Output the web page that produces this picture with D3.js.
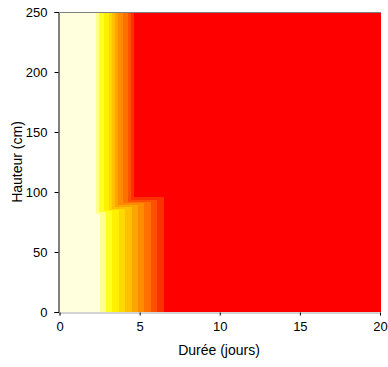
<!DOCTYPE html>
<html><head><meta charset="utf-8">
<script src="https://cdn.jsdelivr.net/npm/d3@7"></script>
<style>body{margin:0;background:#fff}svg{display:block}text{font-family:"Liberation Sans",Arial,sans-serif}</style>
</head><body><svg id="c" width="388" height="367"></svg>
<script>
// ---- data ----
const xTicks = [0, 5, 10, 15, 20];
const yTicks = [0, 50, 100, 150, 200, 250];
const xDomain = [0, 20];       // Durée (jours)
const yDomain = [0, 250];      // Hauteur (cm)
// colour levels: below first boundary ... above last boundary
const levelColors = ["#FFFFDD", "#FFFF90", "#FFFF22", "#FFF000", "#FFD800", "#FFC000",
                     "#FFA500", "#FF8C00", "#FF7000", "#FF5000", "#FF3000", "#FF0000"];
// day at which each level boundary is crossed, upper part of the profile
const upperBounds = [2.28, 2.47, 2.78, 3.09, 3.3, 3.47, 3.67, 3.97, 4.26, 4.47, 4.66];
// lower part of the profile
const lowerBounds = [2.5, 2.9, 3.3, 3.7, 4.1, 4.5, 4.9, 5.3, 5.7, 6.1, 6.5];
// height (cm) below which each boundary follows the lower profile
const switchHeights = [82, 83, 84, 85, 86, 87.5, 89, 90.5, 92, 93.5, 96];

// ---- drawing ----
const svg = d3.select("#c");
const x = d3.scaleLinear().domain(xDomain).range([59.5, 380]);
const y = d3.scaleLinear().domain(yDomain).range([312, 12]);

const cuts = [yDomain[0], ...switchHeights, yDomain[1]];
const g = svg.append("g");
for (let r = 0; r < cuts.length - 1; r++) {
  const h0 = cuts[r], h1 = cuts[r + 1];
  const mid = (h0 + h1) / 2;
  const b = upperBounds.map((u, k) => mid < switchHeights[k] ? lowerBounds[k] : u);
  const edges = [xDomain[0], ...b, xDomain[1]];
  for (let i = 0; i < levelColors.length; i++) {
    const xa = x(edges[i]), xb = x(edges[i + 1]);
    if (xb <= xa) continue;
    g.append("rect")
      .attr("x", xa).attr("width", xb - xa + (i === levelColors.length - 1 ? 1 : 0))
      .attr("y", y(h1)).attr("height", y(h0) - y(h1))
      .attr("fill", levelColors[i]).attr("shape-rendering", "crispEdges");
  }
}

// frame lines
svg.append("line").attr("x1", x(0)).attr("x2", x(20) + 1).attr("y1", 12.5).attr("y2", 12.5)
  .attr("stroke", "#808080");

const xAxis = svg.append("g").attr("transform", "translate(0,312.5)")
  .call(d3.axisBottom(x).tickValues(xTicks).tickSize(3).tickPadding(6).tickFormat(d3.format("d")));
xAxis.select(".domain").attr("stroke", "#a8a8a8");
xAxis.selectAll("text").attr("font-size", 13).attr("fill", "#000");

const yAxis = svg.append("g").attr("transform", "translate(58.5,0)")
  .call(d3.axisLeft(y).tickValues(yTicks).tickSize(4).tickPadding(7).tickFormat(d3.format("d")));
yAxis.select(".domain").attr("stroke", "#000");
yAxis.selectAll("text").attr("font-size", 13).attr("fill", "#000");

svg.append("text").attr("x", 219).attr("y", 355).attr("text-anchor", "middle")
  .attr("font-size", 14).text("Durée (jours)");
svg.append("text").attr("transform", "translate(22,162) rotate(-90)").attr("text-anchor", "middle")
  .attr("font-size", 14).text("Hauteur (cm)");
</script></body></html>
